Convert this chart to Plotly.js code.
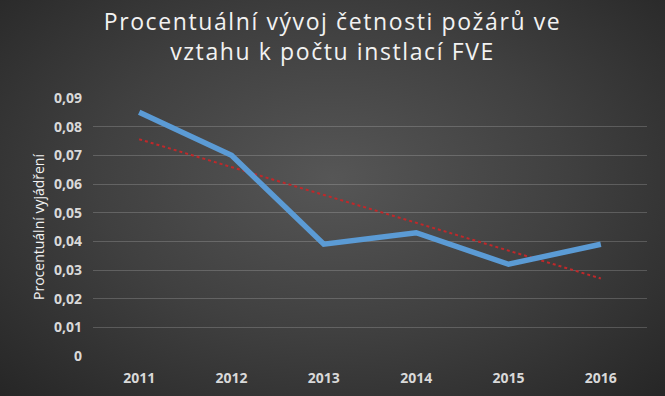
<!DOCTYPE html>
<html>
<head>
<meta charset="utf-8">
<script src="https://cdn.plot.ly/plotly-3.0.1.min.js"></script>
<style>
html,body{margin:0;padding:0;width:665px;height:396px;overflow:hidden;
background: radial-gradient(ellipse at 50% 45%, #565656 0%, #404040 50%, #262626 100%);}
#chart{width:665px;height:396px;}
.gtitle{letter-spacing:1.6px;}
</style>
</head>
<body>
<div id="chart"></div>
<script>
const years = ['2011','2012','2013','2014','2015','2016'];
const values = [0.085, 0.070, 0.039, 0.043, 0.032, 0.039];
const yTickVals = [0, 0.01, 0.02, 0.03, 0.04, 0.05, 0.06, 0.07, 0.08, 0.09];
const yTickText = ['0','0,01','0,02','0,03','0,04','0,05','0,06','0,07','0,08','0,09'];

// linear trendline (least squares) from the data
const n = values.length;
const xs = values.map((_, i) => i);
const mx = xs.reduce((a, b) => a + b, 0) / n;
const my = values.reduce((a, b) => a + b, 0) / n;
let sxy = 0, sxx = 0;
for (let i = 0; i < n; i++) { sxy += (xs[i] - mx) * (values[i] - my); sxx += (xs[i] - mx) ** 2; }
const slope = sxy / sxx, icpt = my - slope * mx;
const trend = xs.map(x => icpt + slope * x);

const data = [
  {x: years, y: trend, type: 'scatter', mode: 'lines',
   line: {color: '#c0282a', width: 2, dash: 'dot'}, hoverinfo: 'skip'},
  {x: years, y: values, type: 'scatter', mode: 'lines',
   line: {color: '#5b9bd5', width: 5.5}}
];
const layout = {
  width: 665, height: 396,
  paper_bgcolor: 'rgba(0,0,0,0)', plot_bgcolor: 'rgba(0,0,0,0)',
  showlegend: false,
  margin: {l: 93, r: 18, t: 98, b: 40},
  title: {text: 'Procentuální vývoj četnosti požárů ve<br>vztahu k počtu instlací FVE',
    font: {family: 'Open Sans, sans-serif', size: 23, color: '#f2f2f2'},
    x: 0.5, xanchor: 'center', y: 0.924, yanchor: 'middle'},
  xaxis: {type: 'category', range: [-0.5, 5.5], showgrid: false, zeroline: false,
    showline: false, ticks: '', ticklabelstandoff: 12,
    tickfont: {family: 'Open Sans, sans-serif', size: 14, color: '#d9d9d9', weight: 'bold'}},
  yaxis: {range: [0, 0.09], tickvals: yTickVals, ticktext: yTickText,
    showgrid: true, gridcolor: 'rgba(255,255,255,0.18)', gridwidth: 1,
    zeroline: false, showline: false, ticks: '', ticklabelstandoff: 10,
    tickfont: {family: 'Open Sans, sans-serif', size: 14, color: '#d9d9d9', weight: 'bold'},
    title: {text: 'Procentuální vyjádření', standoff: 6,
      font: {family: 'Open Sans, sans-serif', size: 14, color: '#f2f2f2'}}}
};
Plotly.newPlot('chart', data, layout, {displayModeBar: false, staticPlot: true});
</script>
</body>
</html>
